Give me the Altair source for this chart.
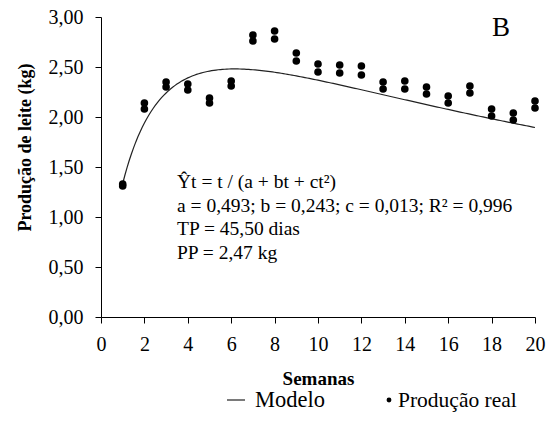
import altair as alt
import numpy as np
import pandas as pd

# Weekly milk yield, two observations per week (kg)
weeks = list(range(1, 21))
rep1 = [1.33, 2.14, 2.35, 2.33, 2.19, 2.36, 2.82, 2.86, 2.64, 2.53,
        2.52, 2.51, 2.35, 2.36, 2.30, 2.21, 2.31, 2.08, 2.04, 2.16]
rep2 = [1.31, 2.08, 2.30, 2.27, 2.14, 2.31, 2.76, 2.78, 2.56, 2.45,
        2.44, 2.42, 2.28, 2.28, 2.23, 2.14, 2.24, 2.01, 1.97, 2.09]

# Fitted lactation model Yt = t / (a + b t + c t^2)
a, b, c = 0.493, 0.243, 0.013

x_ticks = list(range(0, 21, 2))
y_ticks = [0, 0.5, 1.0, 1.5, 2.0, 2.5, 3.0]

FONT = "Times New Roman, Liberation Serif, serif"

obs = pd.DataFrame({"semana": weeks * 2, "producao": rep1 + rep2})
t = np.linspace(1, 20, 191)
model = pd.DataFrame({"semana": t, "producao": t / (a + b * t + c * t ** 2)})

x_enc = alt.X(
    "semana:Q",
    scale=alt.Scale(domain=[0, 20], nice=False),
    axis=alt.Axis(
        values=x_ticks, title="Semanas", labelPadding=11, labelFlush=False,
        titleFontSize=19, titleY=67, titleBaseline="alphabetic",
    ),
)
y_enc = alt.Y(
    "producao:Q",
    scale=alt.Scale(domain=[0, 3], nice=False),
    axis=alt.Axis(
        values=y_ticks, title="Produção de leite (kg)", labelPadding=12,
        labelExpr="replace(format(datum.value, '.2f'), '.', ',')",
        titleFontSize=18, titleX=-71, titleY=130, titleAngle=-90,
        titleAlign="center", titleBaseline="alphabetic",
    ),
)

line = alt.Chart(model).mark_line(color="#222222", strokeWidth=1.2).encode(x=x_enc, y=y_enc)
points = alt.Chart(obs).mark_circle(size=58, color="black", opacity=1).encode(x=x_enc, y=y_enc)

one = pd.DataFrame({"k": [0]})

equation = alt.Chart(one).mark_text(
    text=[
        "Ŷt = t / (a + bt + ct²)",
        "a = 0,493; b = 0,243; c = 0,013; R² = 0,996",
        "TP = 45,50 dias",
        "PP = 2,47 kg",
    ],
    font=FONT, fontSize=19.5, align="left", baseline="alphabetic",
    lineHeight=23.5, color="black",
).encode(x=alt.value(76), y=alt.value(171))

panel = alt.Chart(one).mark_text(
    text="B", font=FONT, fontSize=27, align="center", baseline="alphabetic", color="black",
).encode(x=alt.value(400), y=alt.value(19))

# Legend below the axis title
leg_line = alt.Chart(one).mark_rule(color="#222222", strokeWidth=1.2).encode(
    x=alt.value(126), x2=alt.value(144), y=alt.value(383)
)
leg_model = alt.Chart(one).mark_text(
    text="Modelo", font=FONT, fontSize=22.5, align="left", baseline="alphabetic", color="black",
).encode(x=alt.value(154), y=alt.value(390))
leg_dot = alt.Chart(one).mark_circle(size=24, color="black", opacity=1).encode(
    x=alt.value(288), y=alt.value(383)
)
leg_real = alt.Chart(one).mark_text(
    text="Produção real", font=FONT, fontSize=21.5, align="left", baseline="alphabetic", color="black",
).encode(x=alt.value(297), y=alt.value(390))

chart = alt.layer(
    line, points, equation, panel, leg_line, leg_model, leg_dot, leg_real
).properties(
    width=434, height=300, autosize="none",
    padding={"left": 101, "top": 17, "right": 20, "bottom": 117},
).configure_view(
    stroke=None
).configure_axis(
    grid=False, tickSize=6, domainColor="black", tickColor="black",
    labelFont=FONT, labelFontSize=20, labelColor="black",
    titleFont=FONT, titleFontWeight="bold", titleColor="black",
)

chart.save("out.html", embed_options={"renderer": "svg", "actions": False})
